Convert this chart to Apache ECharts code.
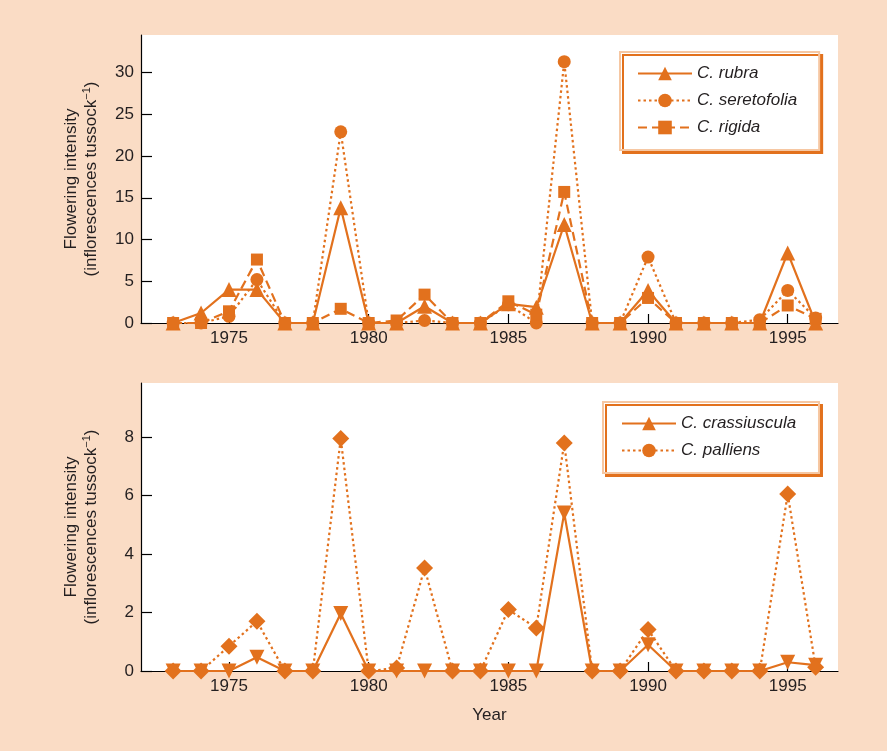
<!DOCTYPE html>
<html><head><meta charset="utf-8">
<script src="https://cdn.jsdelivr.net/npm/echarts@6/dist/echarts.min.js"></script>
<style>html,body{margin:0;padding:0;background:#FADCC5;}#c{width:887px;height:751px;}</style>
</head><body><div id="c"></div>
<script>
const years = [1973,1974,1975,1976,1977,1978,1979,1980,1981,1982,1983,1984,1985,1986,1987,1988,1989,1990,1991,1992,1993,1994,1995,1996];
const rubra =       [0,1.2,4.0,4.0,0,0,13.8,0,0,2.0,0,0,2.3,1.9,11.8,0,0,3.9,0,0,0,0,8.4,0];
const seretofolia = [0,0,0.8,5.2,0,0,22.9,0,0,0.3,0,0,2.2,0,31.3,0,0,7.9,0,0,0,0.4,3.9,0.6];
const rigida =      [0,0,1.4,7.6,0,0,1.7,0,0.3,3.4,0,0,2.6,1.0,15.7,0,0,3.0,0,0,0,0,2.1,0.5];
const crassiuscula = [0,0,0,0.47,0,0,1.97,0,0,0,0,0,0,0,5.4,0,0,0.9,0,0,0,0,0.3,0.2];
const palliens =     [0,0,0.85,1.7,0,0,7.95,0,0.1,3.52,0,0,2.1,1.47,7.8,0,0,1.42,0,0,0,0,6.05,0.13];
const yearTicks = [1975,1980,1985,1990,1995];
const topNames = ['C. rubra','C. seretofolia','C. rigida'];
const botNames = ['C. crassiuscula','C. palliens'];

const OR = '#E2711D';
const TXT = '#231F20';
const FONT = '"Liberation Sans", Arial, sans-serif';
const pair = a => a.map((v,i)=>[years[i], v]);

function xAx(gi, showName){
  return {type:'value', gridIndex:gi, min:1971.85, max:1996.8,
    axisLine:{show:true, onZero:false, lineStyle:{color:'#000', width:1.2}},
    axisTick:{show:true, inside:true, length:9, customValues:yearTicks, lineStyle:{color:'#000', width:1.2}},
    axisLabel:{customValues:yearTicks, formatter:v=>String(v), margin:7, color:TXT, fontSize:17, fontFamily:FONT},
    splitLine:{show:false},
    name: showName ? 'Year' : '', nameLocation:'middle', nameGap:36,
    nameTextStyle:{color:TXT, fontSize:17, fontFamily:FONT}};
}
function yAx(gi, max, interval){
  return {type:'value', gridIndex:gi, min:0, max:max, interval:interval,
    axisLine:{show:true, lineStyle:{color:'#000', width:1.2}},
    axisTick:{show:true, inside:true, length:11, lineStyle:{color:'#000', width:1.2}},
    axisLabel:{margin:7, color:TXT, fontSize:17, fontFamily:FONT, showMaxLabel:false},
    splitLine:{show:false},
    name:'{a|Flowering intensity}\n{a|(inflorescences tussock}{s|−1}{a|)}',
    nameLocation:'middle', nameRotate:90, nameGap:40,
    nameTextStyle:{rich:{a:{color:TXT, fontSize:17, fontFamily:FONT, lineHeight:20},
                          s:{color:TXT, fontSize:11, fontFamily:FONT, verticalAlign:'top', lineHeight:20, padding:[0,0,8,0]}}}};
}
function ser(name, data, gi, symbol, size, dash, extra){
  return Object.assign({type:'line', name:name, xAxisIndex:gi, yAxisIndex:gi, data:data,
    symbol:symbol, symbolSize:size, showSymbol:true,
    itemStyle:{color:OR, opacity:1},
    lineStyle:{color:OR, width:2.2, type:dash},
    emphasis:{disabled:true}, animation:false}, extra||{});
}
const legendBase = {orient:'vertical', itemWidth:54, itemHeight:17, itemGap:10,
  backgroundColor:'#fff', borderColor:'#F6C7A2', borderWidth:2,
  shadowColor:OR, shadowOffsetX:3, shadowOffsetY:3, shadowBlur:0,
  textStyle:{color:TXT, fontSize:17, fontFamily:FONT, fontStyle:'italic'}, selectedMode:false};

const option = {
  backgroundColor:'#FADCC5',
  animation:false,
  grid:[
    {left:141, top:35, right:49, height:288, show:true, backgroundColor:'#fff', borderWidth:0},
    {left:141, top:383, right:49, height:288, show:true, backgroundColor:'#fff', borderWidth:0}
  ],
  xAxis:[xAx(0,false), xAx(1,true)],
  yAxis:[yAx(0,34.5,5), yAx(1,9.85,2)],
  legend:[
    Object.assign({}, legendBase, {left:620, top:52, padding:[13,22,14,17], data:topNames}),
    Object.assign({}, legendBase, {left:603, top:402, padding:[13,18,14,18], data:['C. crassiuscula ','C. palliens ']})
  ],
  series:[
    ser(topNames[0], pair(rubra), 0, 'triangle', 15, 'solid'),
    ser(topNames[1], pair(seretofolia), 0, 'circle', 13, [2.5,3]),
    ser(topNames[2], pair(rigida), 0, 'rect', 12, [9,5]),
    ser(botNames[0], pair(crassiuscula), 1, 'triangle', 15, 'solid', {symbolRotate:180}),
    ser(botNames[1], pair(palliens), 1, 'diamond', 17, [2.5,3]),
    ser('C. crassiuscula ', [], 1, 'triangle', 15, 'solid'),
    ser('C. palliens ', [], 1, 'circle', 13, [2.5,3])
  ]
};
echarts.init(document.getElementById('c'), null, {renderer:'canvas'}).setOption(option);
</script></body></html>
